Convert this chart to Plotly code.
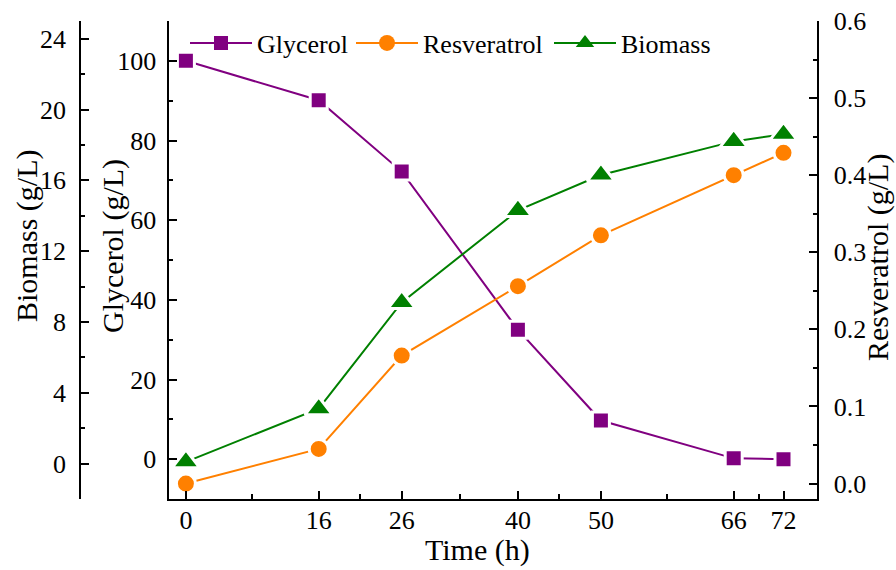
import plotly.graph_objects as go

# Fermentation time course
time_h = [0, 16, 26, 40, 50, 66, 72]
glycerol = [100.0, 90.1, 72.2, 32.5, 9.7, 0.2, 0.0]          # g/L
resveratrol = [0.0, 0.045, 0.166, 0.256, 0.322, 0.400, 0.429]  # g/L
biomass = [0.1, 3.1, 9.1, 14.3, 16.3, 18.2, 18.6]              # g/L

time_minor = [(a + b) / 2 for a, b in zip(time_h[:-1], time_h[1:])]

W, H = 896, 570
FONT = "Liberation Serif, Times New Roman, serif"
PURPLE, ORANGE, GREEN = "#800080", "#FF8000", "#008000"

# plot frame in pixels
left_px, right_px, top_px, bottom_px = 169.3, 816.7, 21.0, 499.0
biomass_axis_px = 80.0

x_dom = [left_px / W, right_px / W]
y_dom = [1 - bottom_px / H, 1 - top_px / H]

series = [
    ("Glycerol", glycerol, "y", PURPLE, "square", 17, 14, "legend"),
    ("Resveratrol", resveratrol, "y3", ORANGE, "circle", 19, 16, "legend2"),
    ("Biomass", biomass, "y2", GREEN, "triangle-up", 24, 19, "legend3"),
]

fig = go.Figure()
for name, vals, yref, color, sym, size, leg_size, leg in series:
    # data trace: white rim leaves a small gap between the line and each symbol
    fig.add_trace(go.Scatter(
        x=time_h, y=vals, yaxis=yref, name=name, mode="lines+markers",
        line=dict(color=color, width=2),
        marker=dict(symbol=sym, size=size, color=color,
                    line=dict(color="white", width=3)),
        showlegend=False, cliponaxis=False,
    ))
    # legend key
    fig.add_trace(go.Scatter(
        x=[None], y=[None], yaxis=yref, name=name, mode="lines+markers",
        line=dict(color=color, width=2),
        marker=dict(symbol=sym, size=leg_size, color=color, line=dict(width=0)),
        legend=leg, showlegend=True,
    ))

axis_common = dict(
    showline=True, linecolor="black", linewidth=1.6,
    ticks="inside", ticklen=8, tickwidth=1.6, tickcolor="black",
    showgrid=False, zeroline=False,
    tickfont=dict(family=FONT, size=26, color="black"),
    automargin=False,
)

fig.update_layout(
    width=W, height=H,
    margin=dict(l=0, r=0, t=0, b=0),
    template="none",
    paper_bgcolor="white", plot_bgcolor="white",
    font=dict(family=FONT, size=26, color="black"),
    xaxis=dict(
        domain=x_dom, range=[-2, 76],
        tickmode="array", tickvals=time_h, ticktext=[str(t) for t in time_h],
        minor=dict(tickmode="array", tickvals=time_minor, ticks="inside",
                   ticklen=5, tickwidth=1.6, tickcolor="black"),
        ticklabelstandoff=-3,
        **axis_common,
    ),
    yaxis=dict(
        domain=y_dom, range=[-10, 110], anchor="x", side="left",
        tick0=0, dtick=20,
        minor=dict(dtick=10, ticks="inside", ticklen=4, tickwidth=1.6,
                   tickcolor="black"),
        ticklabelstandoff=6,
        **axis_common,
    ),
    yaxis2=dict(
        domain=y_dom, range=[-2, 25], overlaying="y", anchor="free",
        position=biomass_axis_px / W, side="left",
        tick0=0, dtick=4,
        minor=dict(dtick=2, ticks="inside", ticklen=4, tickwidth=1.6,
                   tickcolor="black"),
        ticklabelstandoff=8,
        **axis_common,
    ),
    yaxis3=dict(
        domain=y_dom, range=[-0.02, 0.6], overlaying="y", anchor="x",
        side="right", tick0=0, dtick=0.1, tickformat=".1f",
        minor=dict(dtick=0.05, ticks="inside", ticklen=4, tickwidth=1.6,
                   tickcolor="black"),
        ticklabelstandoff=10,
        **axis_common,
    ),
)

# one legend box per series so each key sits where it belongs
leg_common = dict(orientation="h", yanchor="middle", y=1 - 43 / H,
                  xanchor="left", bgcolor="rgba(0,0,0,0)", borderwidth=0,
                  itemwidth=62, font=dict(family=FONT, size=26, color="black"))
fig.update_layout(
    legend=dict(x=(221 - 36) / W, **leg_common),
    legend2=dict(x=(387 - 36) / W, **leg_common),
    legend3=dict(x=(585 - 36) / W, **leg_common),
)

title_font = dict(family=FONT, size=30, color="black")
titles = [
    ("Time (h)", 477, 550, 0),
    ("Biomass (g/L)", 27, 236, -90),
    ("Glycerol (g/L)", 113, 246, -90),
    ("Resveratrol (g/L)", 878, 258, -90),
]
for text, px, py, ang in titles:
    fig.add_annotation(
        text=text, x=px / W, y=1 - py / H, xref="paper", yref="paper",
        xanchor="center", yanchor="middle", textangle=ang,
        showarrow=False, font=title_font,
    )

fig.write_html("out.html")
